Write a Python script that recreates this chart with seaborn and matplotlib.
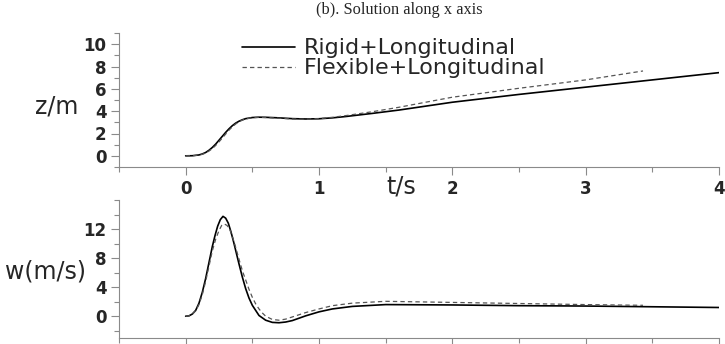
import numpy as np
import pandas as pd
import matplotlib
matplotlib.use("Agg")
import matplotlib.pyplot as plt
import seaborn as sns
from matplotlib.ticker import MultipleLocator

# ---- data ----
t_rigid_z = [0, 0.05, 0.1, 0.125, 0.15, 0.175, 0.2, 0.225, 0.25, 0.275, 0.3, 0.325, 0.35,
             0.375, 0.4, 0.425, 0.45, 0.5, 0.55, 0.6, 0.7, 0.8, 0.9, 1.0, 1.1, 1.2, 1.4,
             1.6, 1.8, 2.0, 2.5, 3.0, 3.5, 4.0]
z_rigid = [0, 0.01, 0.08, 0.17, 0.3, 0.5, 0.75, 1.05, 1.4, 1.75, 2.1, 2.42, 2.7,
           2.93, 3.1, 3.23, 3.33, 3.43, 3.46, 3.45, 3.4, 3.33, 3.3, 3.32, 3.4, 3.52, 3.8,
           4.1, 4.45, 4.8, 5.5, 6.15, 6.8, 7.45]
t_flex_z = [0, 0.05, 0.1, 0.125, 0.15, 0.175, 0.2, 0.225, 0.25, 0.275, 0.3, 0.325, 0.35,
            0.375, 0.4, 0.425, 0.45, 0.5, 0.55, 0.6, 0.7, 0.8, 0.9, 1.0, 1.1, 1.2, 1.4,
            1.6, 1.8, 2.0, 2.5, 3.0, 3.43]
z_flex = [0, 0.01, 0.07, 0.14, 0.25, 0.43, 0.65, 0.93, 1.25, 1.6, 1.95, 2.3, 2.6,
          2.85, 3.05, 3.2, 3.3, 3.42, 3.45, 3.43, 3.37, 3.3, 3.28, 3.33, 3.45, 3.6, 3.95,
          4.35, 4.8, 5.25, 6.05, 6.8, 7.6]

t_rigid_w = [0, 0.025, 0.05, 0.075, 0.1, 0.125, 0.15, 0.175, 0.2, 0.22, 0.24, 0.26, 0.28,
             0.3, 0.32, 0.34, 0.36, 0.38, 0.4, 0.425, 0.45, 0.475, 0.5, 0.55, 0.6, 0.65,
             0.7, 0.75, 0.8, 0.9, 1.0, 1.1, 1.25, 1.5, 2.0, 2.5, 3.0, 3.5, 4.0]
w_rigid = [0, 0.05, 0.3, 0.8, 1.8, 3.3, 5.2, 7.4, 9.6, 11.1, 12.4, 13.3, 13.75,
           13.5, 12.8, 11.6, 10.2, 8.7, 7.2, 5.4, 3.8, 2.5, 1.5, 0.1, -0.55, -0.85,
           -0.9, -0.8, -0.6, 0.05, 0.6, 1.0, 1.35, 1.6, 1.55, 1.45, 1.4, 1.3, 1.2]
t_flex_w = [0, 0.025, 0.05, 0.075, 0.1, 0.125, 0.15, 0.175, 0.2, 0.225, 0.25, 0.27, 0.29,
            0.31, 0.33, 0.35, 0.37, 0.39, 0.41, 0.43, 0.45, 0.475, 0.5, 0.525, 0.55, 0.575,
            0.6, 0.65, 0.7, 0.75, 0.8, 0.9, 1.0, 1.1, 1.25, 1.5, 2.0, 2.5, 3.0, 3.43]
w_flex = [0, 0.05, 0.3, 0.75, 1.6, 3.0, 4.8, 6.9, 9.0, 10.6, 11.8, 12.5, 12.7,
          12.5, 12.0, 11.0, 9.8, 8.5, 7.2, 6.0, 5.0, 3.7, 2.6, 1.7, 1.0, 0.45,
          0.0, -0.45, -0.55, -0.4, -0.1, 0.5, 1.0, 1.45, 1.8, 2.05, 1.9, 1.75, 1.6, 1.5]

labels = ["Rigid+Longitudinal", "Flexible+Longitudinal"]
x_ticks = [0, 1, 2, 3, 4]
z_ticks = [0, 2, 4, 6, 8, 10]
w_ticks = [0, 4, 8, 12]

sns.set_theme(style="white")
plt.rcParams["font.family"] = ["DejaVu Sans"]

W, H = 725, 344
fig = plt.figure(figsize=(W / 100, H / 100), dpi=100)
ax1 = fig.add_axes([119 / W, (H - 167) / H, 600 / W, 134 / H])
ax2 = fig.add_axes([119 / W, (H - 338) / H, 600 / W, 138 / H])

solid_kw = dict(color="black", linewidth=1.2)
dash_kw = dict(color="#555555", linewidth=0.9, linestyle=(0, (3.5, 2.5)))

sns.lineplot(x=t_rigid_z, y=z_rigid, ax=ax1, label=labels[0], **solid_kw)
sns.lineplot(x=t_flex_z, y=z_flex, ax=ax1, label=labels[1], **dash_kw)
sns.lineplot(x=t_rigid_w, y=w_rigid, ax=ax2, legend=False, **solid_kw)
sns.lineplot(x=t_flex_w, y=w_flex, ax=ax2, legend=False, **dash_kw)

spine_c = "#8a8a8a"
for ax in (ax1, ax2):
    ax.set_xlim(-0.5, 4)
    ax.set_xticks(x_ticks)
    ax.xaxis.set_minor_locator(MultipleLocator(0.5))
    for s in ("top", "right"):
        ax.spines[s].set_visible(False)
    for s in ("left", "bottom"):
        ax.spines[s].set_color(spine_c)
        ax.spines[s].set_linewidth(0.8)
    ax.tick_params(which="both", bottom=True, left=True, direction="out",
                   color=spine_c, width=0.8)
    ax.tick_params(which="major", length=6, pad=3)
    ax.tick_params(which="minor", length=3.5)
    ax.set_xlabel("")
    ax.set_ylabel("")
    ax.set_facecolor("white")

ax1.set_ylim(-1, 11)
ax1.set_yticks(z_ticks)
ax1.yaxis.set_minor_locator(MultipleLocator(1))
ax1.set_xticklabels([str(v) for v in x_ticks], fontsize=12, fontweight="bold")
ax1.set_yticklabels([str(v) for v in z_ticks], fontsize=12, fontweight="bold")

ax2.set_ylim(-3, 16)
ax2.set_yticks(w_ticks)
ax2.yaxis.set_minor_locator(MultipleLocator(2))
ax2.set_xticklabels([])
ax2.set_yticklabels([str(v) for v in w_ticks], fontsize=12, fontweight="bold")

leg = ax1.legend(loc="upper left", bbox_to_anchor=((242 - 119) / 600, 0.96),
                 frameon=False, fontsize=16, handlelength=2.4, handletextpad=0.4,
                 borderaxespad=0, borderpad=0, labelspacing=0.0)

fig.text(399 / W, 1 - 10 / H, "(b). Solution along x axis", ha="center", va="center",
         fontsize=11.8, family=["Liberation Serif"])
fig.text(57 / W, 1 - 107 / H, "z/m", ha="center", va="center", fontsize=17)
fig.text(45 / W, 1 - 272 / H, "w(m/s)", ha="center", va="center", fontsize=17)
fig.text(401 / W, 1 - 186 / H, "t/s", ha="center", va="center", fontsize=17)

fig.savefig("out.png", dpi=100, facecolor="white")
